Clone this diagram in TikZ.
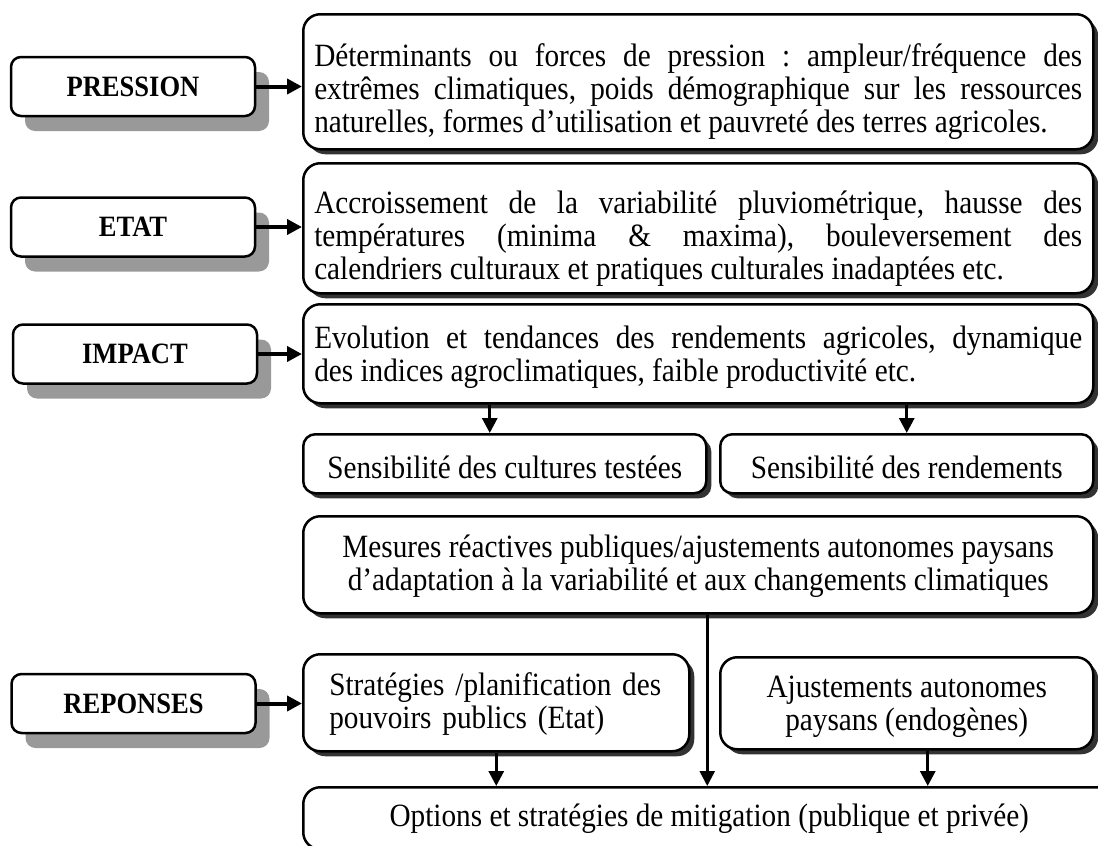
\documentclass[tikz,border=0pt]{standalone}
\usepackage{fontspec}
\setmainfont{Liberation Serif}[FakeStretch=0.9]
\frenchspacing
\usetikzlibrary{arrows.meta, shadows}
\tikzset{>={Triangle[length=15pt, width=15pt]},
  every node/.style={font=\fontsize{32.5}{33}\selectfont},
  etiquette/.style={rectangle, draw, line width=2.5pt, rounded corners=10pt, fill=white,
    minimum width=244pt, minimum height=59pt, font=\bfseries\fontsize{29.5}{32}\selectfont,
    drop shadow={shadow xshift=14pt, shadow yshift=-15pt, fill=black!40, opacity=1}},
  cadre/.style={rectangle, draw, line width=2.5pt, rounded corners=17pt, fill=white,
    anchor=north west, inner sep=0pt,
    drop shadow={shadow xshift=5pt, shadow yshift=-5pt, fill=black!80, opacity=1}},
  fleche/.style={->, line width=4pt},
  descente/.style={->, line width=3pt}}

\begin{document}
\begin{tikzpicture}[x=1pt, y=-1pt]
    \useasboundingbox (0,0) rectangle (1098,846);
    \clip (0,0) rectangle (1098,846);
    % etiquettes de gauche
    \node[etiquette] (pression) at (133,86.5) {PRESSION};
    \node[etiquette] (etat) at (133,227) {ETAT};
    \node[etiquette] (impact) at (135,354) {IMPACT};
    \node[etiquette] (reponses) at (133.5,703.5) {REPONSES};
    % cadres de droite
    \node[cadre, minimum width=790pt, minimum height=135pt, text width=768pt, align=justify] (presBox) at (302,13)
        {\leftskip=17pt\rule{0pt}{42pt}Déterminants ou forces de pression : ampleur/fréquence des\linebreak extrêmes climatiques, poids démographique sur les ressources\linebreak naturelles, formes d’utilisation et pauvreté des terres agricoles.};
    \node[cadre, minimum width=790pt, minimum height=130pt, text width=768pt, align=justify] (etatBox) at (302,162)
        {\leftskip=15pt\rule{0pt}{44pt}Accroissement de la variabilité pluviométrique, hausse des\linebreak températures (minima \& maxima), bouleversement des\linebreak calendriers culturaux et pratiques culturales inadaptées etc.};
    \node[cadre, minimum width=790pt, minimum height=99pt, text width=768pt, align=justify] (impBox) at (302,303)
        {\leftskip=15pt\rule{0pt}{30pt}Evolution et tendances des rendements agricoles, dynamique\linebreak des indices agroclimatiques, faible productivité etc.};
    \node[cadre, rounded corners=12pt, minimum width=403pt, minimum height=59pt] (cultBox) at (302,433) {\rule{0pt}{29pt}Sensibilité des cultures testées};
    \node[cadre, rounded corners=12pt, minimum width=373pt, minimum height=59pt] (rendBox) at (719,433) {\rule{0pt}{29pt}Sensibilité des rendements};
    \node[cadre, minimum width=790pt, minimum height=97pt, align=center] (mesBox) at (302,515)
        {\rule{0pt}{26pt}Mesures réactives publiques/ajustements autonomes paysans\\ d’adaptation à la variabilité et aux changements climatiques};
    \node[cadre, minimum width=386pt, minimum height=97pt, text width=334pt, align=left] (stratBox) at (302,653)
        {\rule{0pt}{26pt}Stratégies /planification des\\ pouvoirs publics (Etat)};
    \node[cadre, minimum width=373pt, minimum height=92pt, align=center] (ajustBox) at (719,656)
        {\rule{0pt}{28pt}Ajustements autonomes\\ paysans (endogènes)};
    \node[cadre, drop shadow={opacity=0}, minimum width=812pt, minimum height=62pt] (optBox) at (302,786)
        {Options et stratégies de mitigation (publique et privée)};
    % fleches
    \draw[fleche] (pression.east) -- (pression.east -| presBox.west);
    \draw[fleche] (etat.east) -- (etat.east -| etatBox.west);
    \draw[fleche] (impact.east) -- (impact.east -| impBox.west);
    \draw[fleche] (reponses.east) -- (reponses.east -| stratBox.west);
    \draw[descente] ([xshift=-15pt]cultBox.north |- impBox.south) -- ([xshift=-15pt]cultBox.north);
    \draw[descente] (rendBox.north |- impBox.south) -- (rendBox.north);
    \draw[->, line width=2.5pt] ([xshift=9pt]mesBox.south) -- ([xshift=9pt]mesBox.south |- optBox.north);
    \draw[descente] (stratBox.south) -- (stratBox.south |- optBox.north);
    \draw[descente] ([xshift=21pt]ajustBox.south) -- ([xshift=21pt]ajustBox.south |- optBox.north);
\end{tikzpicture}
\end{document}
